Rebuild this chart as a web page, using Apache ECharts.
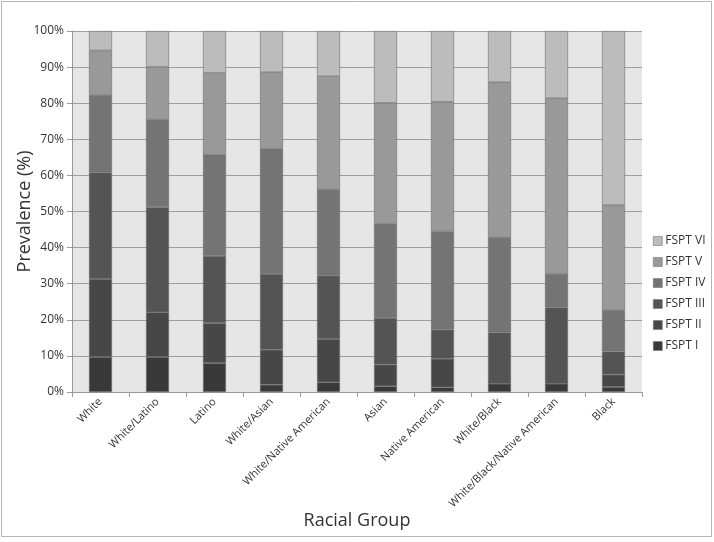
<!DOCTYPE html>
<html>
<head>
<meta charset="utf-8">
<script src="https://cdn.jsdelivr.net/npm/echarts@6/dist/echarts.min.js"></script>
<style>
    html, body { margin: 0; padding: 0; background: #fff; }
    #main { width: 714px; height: 542px; }
</style>
</head>
<body>
<div id="main"></div>
<script>
// racial groups, left to right
var groups = ['White', 'White/Latino', 'Latino', 'White/Asian', 'White/Native American',
    'Asian', 'Native American', 'White/Black', 'White/Black/Native American', 'Black'];

// prevalence (%) per skin type
var fsptI   = [9.7, 9.7, 8.0, 2.0, 2.7, 1.6, 1.3, 2.3, 2.3, 1.4];
var fsptII  = [21.6, 12.4, 11.1, 9.7, 12.0, 6.0, 7.9, 0, 0, 3.4];
var fsptIII = [29.5, 29.1, 18.6, 21.0, 17.5, 12.9, 8.1, 14.2, 21.1, 6.4];
var fsptIV  = [21.5, 24.4, 28.0, 34.7, 24.0, 26.1, 27.2, 26.4, 9.3, 11.5];
var fsptV   = [12.3, 14.5, 22.7, 21.2, 31.3, 33.5, 35.9, 42.9, 48.7, 29.1];
var fsptVI  = [5.4, 9.9, 11.6, 11.4, 12.5, 19.9, 19.6, 14.2, 18.6, 48.2];

var yTicks = [0, 10, 20, 30, 40, 50, 60, 70, 80, 90, 100];

var names = ['FSPT I', 'FSPT II', 'FSPT III', 'FSPT IV', 'FSPT V', 'FSPT VI'];
var values = [fsptI, fsptII, fsptIII, fsptIV, fsptV, fsptVI];
var colors = ['#393939', '#474747', '#545454', '#747474', '#999999', '#bcbcbc'];

var series = [];
for (var i = 0; i < names.length; i++) {
    series.push({
        name: names[i],
        type: 'bar',
        stack: 'total',
        barWidth: 23,
        data: values[i],
        itemStyle: {
            color: colors[i],
            borderColor: '#6e6e6e',
            borderWidth: 0.6
        }
    });
}

var chart = echarts.init(document.getElementById('main'));
chart.setOption({
    animation: false,
    textStyle: { fontFamily: '"Open Sans", "Liberation Sans", sans-serif' },
    graphic: [{
        type: 'rect',
        shape: { x: 1.5, y: 1.5, width: 710, height: 535 },
        style: { fill: 'none', stroke: '#b5b5b5', lineWidth: 1 },
        z: -10
    }],
    legend: {
        orient: 'vertical',
        left: 648,
        top: 230,
        itemWidth: 9,
        itemHeight: 9,
        itemGap: 9,
        icon: 'rect',
        data: ['FSPT VI', 'FSPT V', 'FSPT IV', 'FSPT III', 'FSPT II', 'FSPT I'],
        textStyle: { fontSize: 12, color: '#333', padding: [0, 0, 0, -2] },
        itemStyle: { borderColor: '#777', borderWidth: 0.6 }
    },
    grid: {
        left: 72,
        right: 72,
        top: 31,
        bottom: 150,
        outerBoundsMode: 'none',
        show: true,
        backgroundColor: '#e6e6e6',
        borderWidth: 0
    },
    xAxis: {
        type: 'category',
        data: groups,
        name: 'Racial Group',
        nameLocation: 'middle',
        nameGap: 120,
        nameMoveOverlap: false,
        nameTextStyle: { fontSize: 18, color: '#333' },
        axisLine: { lineStyle: { color: '#999' } },
        axisTick: { show: true, length: 5, lineStyle: { color: '#999' } },
        axisLabel: { rotate: 45, fontSize: 11, color: '#333', margin: 8, interval: 0 }
    },
    yAxis: {
        type: 'value',
        min: 0,
        max: 100,
        interval: 10,
        name: 'Prevalence (%)',
        nameLocation: 'middle',
        nameGap: 38,
        nameMoveOverlap: false,
        nameTextStyle: { fontSize: 18, color: '#333' },
        axisLine: { show: true, lineStyle: { color: '#999' } },
        axisTick: { show: true, length: 5, lineStyle: { color: '#999' } },
        axisLabel: {
            fontSize: 12,
            color: '#333',
            margin: 8,
            formatter: function (v) { return yTicks.indexOf(v) >= 0 ? v + '%' : ''; }
        },
        splitLine: { show: true, lineStyle: { color: '#9e9e9e', width: 1 } }
    },
    series: series
});
</script>
</body>
</html>
